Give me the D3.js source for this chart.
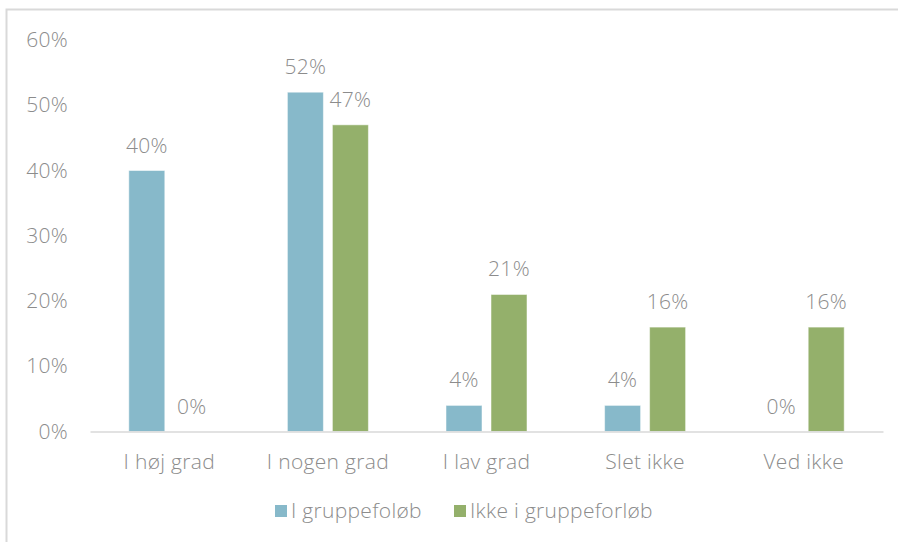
<!DOCTYPE html>
<html>
<head>
<meta charset="utf-8">
<script src="https://cdn.jsdelivr.net/npm/d3@7"></script>
<style>
  html, body { margin: 0; padding: 0; background: #fff; }
  svg { display: block; }
  text { font-family: "Open Sans", "Helvetica Neue", sans-serif; font-weight: 300; fill: #8c8c8c; letter-spacing: 0.3px; }
</style>
</head>
<body>
<svg id="chart" width="898" height="542"></svg>
<script>
// Survey answers, share of respondents per group
const categories = ["I høj grad", "I nogen grad", "I lav grad", "Slet ikke", "Ved ikke"];
const seriesNames = ["I gruppefoløb", "Ikke i gruppeforløb"];
const inGroup = [40, 52, 4, 4, 0];
const notInGroup = [0, 47, 21, 16, 16];
const yTicks = [0, 10, 20, 30, 40, 50, 60];
const colors = ["#87b9ca", "#94b06b"];

const series = [inGroup, notInGroup];
const svg = d3.select("#chart");
const W = 898, H = 542;
const FONT = "'Open Sans', 'Helvetica Neue', sans-serif";
const FS = 21;

// Outer frame (top and left edges visible)
svg.append("path")
  .attr("d", `M6.5,${H} L6.5,9.5 L${W},9.5`)
  .attr("fill", "none")
  .attr("stroke", "#d9d9d9")
  .attr("stroke-width", 2);

const plot = { left: 90, right: 883, top: 40, bottom: 431.5 };

const x = d3.scaleBand().domain(categories).range([plot.left, plot.right]).paddingInner(0).paddingOuter(0);
const y = d3.scaleLinear().domain([0, 60]).range([plot.bottom, plot.top]);

const barW = 36, gap = 9;
const offset = (i) => i === 0 ? -(gap / 2 + barW) : gap / 2;

// Y tick labels (no axis line, no gridlines)
const yAxis = d3.axisLeft(y).tickValues(yTicks).tickSize(0).tickPadding(0).tickFormat(d => d + "%");
const yG = svg.append("g").attr("transform", `translate(68,0)`).call(yAxis);
yG.select(".domain").remove();
yG.selectAll("text").attr("font-size", FS).attr("fill", "#8c8c8c")
  .style("font-family", FONT).style("font-weight", 300);

// Bars
series.forEach((vals, si) => {
  svg.append("g").selectAll("rect")
    .data(vals.map((v, i) => ({ cat: categories[i], v })))
    .join("rect")
    .attr("x", d => x(d.cat) + x.bandwidth() / 2 + offset(si))
    .attr("y", d => y(d.v))
    .attr("width", barW)
    .attr("height", d => y(0) - y(d.v))
    .attr("fill", colors[si])
    .attr("stroke", "#ffffff")
    .attr("stroke-opacity", 0.5)
    .attr("stroke-width", 1);

  // Value labels
  svg.append("g").selectAll("text")
    .data(vals.map((v, i) => ({ cat: categories[i], v })))
    .join("text")
    .attr("x", d => x(d.cat) + x.bandwidth() / 2 + offset(si) + barW / 2)
    .attr("y", d => y(d.v) - 18)
    .attr("text-anchor", "middle")
    .attr("font-size", FS)
    .text(d => d.v + "%");
});

// X axis baseline and category labels
const xAxis = d3.axisBottom(x).tickSize(0).tickPadding(0);
const xG = svg.append("g").attr("transform", `translate(0,${plot.bottom})`).call(xAxis);
xG.select(".domain").attr("stroke", "#d9d9d9").attr("stroke-width", 1.5);
xG.selectAll("text").attr("font-size", FS).attr("fill", "#8c8c8c").attr("dy", 0).attr("y", 37)
  .style("font-family", FONT).style("font-weight", 300);

// Legend
const legendX = [275, 454];
seriesNames.forEach((name, i) => {
  const g = svg.append("g").attr("transform", `translate(${legendX[i]},505)`);
  g.append("rect").attr("width", 12).attr("height", 12).attr("fill", colors[i]);
  g.append("text").attr("x", 16).attr("y", 12.5).attr("font-size", FS).text(name);
});
</script>
</body>
</html>
